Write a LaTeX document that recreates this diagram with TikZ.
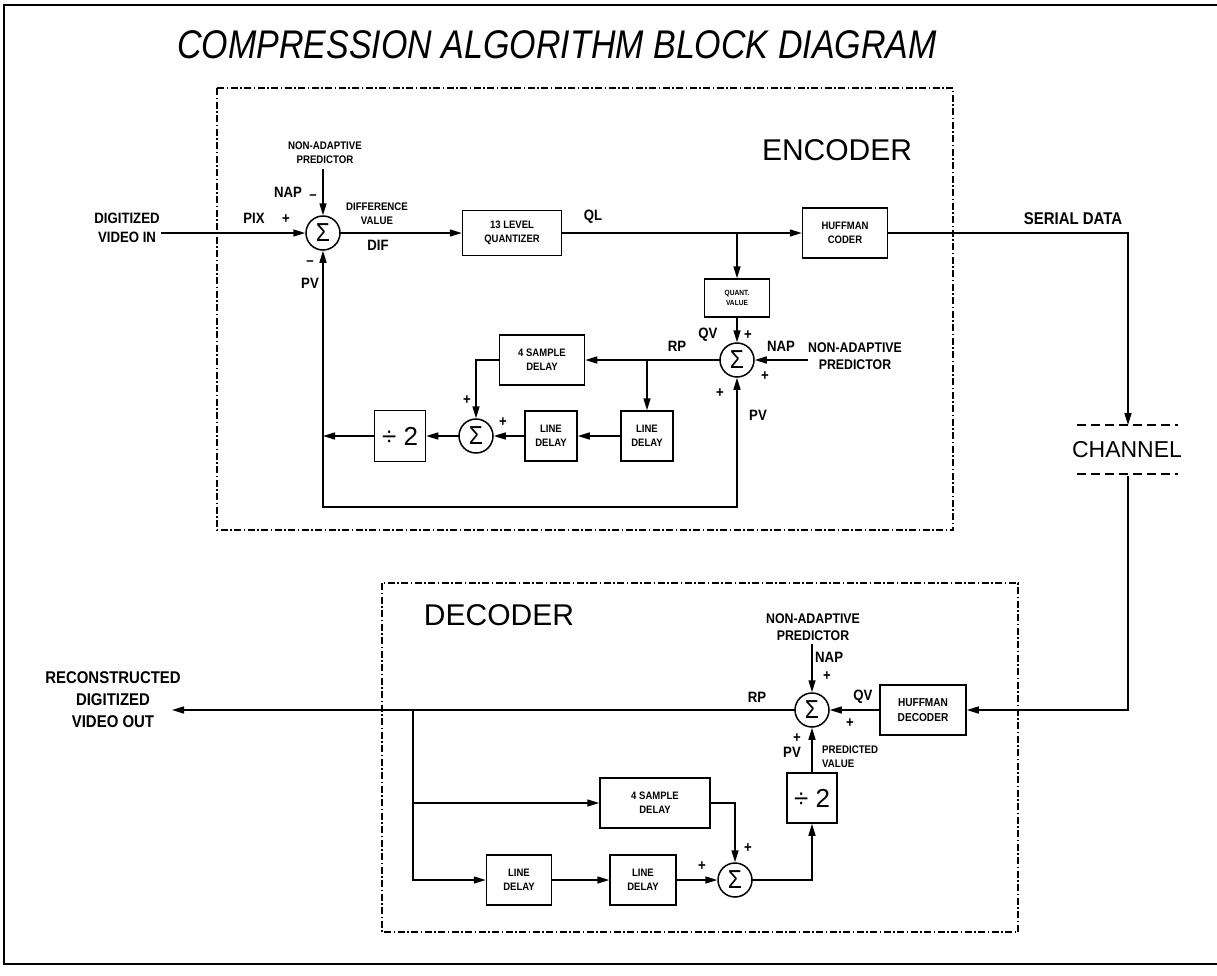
\documentclass[tikz,border=0pt]{standalone}
\usepackage{fontspec}
\setmainfont{Liberation Sans}
\newfontfamily\lblfont[FakeStretch=0.88]{Liberation Sans}
\newfontfamily\ttlfont[FakeStretch=0.85]{Liberation Sans}
\usetikzlibrary{arrows.meta, positioning, calc}

\begin{document}
\begin{tikzpicture}[
  x=1pt, y=-1pt,
  flow/.style={line width=1.5pt, line cap=rect, -{Triangle[length=12pt,width=7pt]}},
  wire/.style={line width=1.5pt, line cap=rect},
  blk/.style={draw, line width=1.5pt, inner sep=0pt, align=center,
    font=\lblfont\bfseries\fontsize{10.8}{14}\selectfont},
  sumnode/.style={circle, draw, line width=1.5pt, minimum size=34pt, inner sep=0pt,
    font=\lblfont\fontsize{26}{26}\selectfont},
  lbl/.style={inner sep=0pt, align=center, font=\lblfont\bfseries\fontsize{15}{19}\selectfont},
  lblsm/.style={inner sep=0pt, align=center, font=\lblfont\bfseries\fontsize{11}{14}\selectfont},
  lblmd/.style={inner sep=0pt, align=center, font=\lblfont\bfseries\fontsize{14}{17}\selectfont},
  bigtxt/.style={inner sep=0pt, font=\fontsize{30}{30}\selectfont},
  bdr/.style={line width=1.5pt, dash pattern=on 7pt off 2.5pt on 1.5pt off 2.5pt},
  chdash/.style={line width=1.5pt, dash pattern=on 9pt off 5pt}
]
\useasboundingbox (0,0) rectangle (1217,975);
\draw[line width=2.5pt] (1217,5) -- (4,5) -- (4,964) -- (1217,964);

\node[font=\ttlfont\itshape\fontsize{40}{40}\selectfont] (title) at (557,45)
  {COMPRESSION ALGORITHM BLOCK DIAGRAM};

% encoder
\draw[bdr] (217,88) rectangle (953,530);
\node[bigtxt] (enc) at (837,150) {ENCODER};

\node[sumnode] (sumE) at (323,233) {Σ};
\node[blk, minimum width=99pt, minimum height=45pt] (quant) at (512,233) {13 LEVEL\\QUANTIZER};
\node[blk, minimum width=85pt, minimum height=50pt] (huffE) at (845,233) {HUFFMAN\\CODER};
\node[blk, minimum width=65pt, minimum height=38pt, font=\lblfont\bfseries\fontsize{7.5}{10.5}\selectfont]
  (qval) at (737,298) {QUANT.\\VALUE};
\node[sumnode] (sumR) at (737,360) {Σ};
\node[blk, minimum width=85pt, minimum height=50pt] (samp) at (542,360) {4 SAMPLE\\DELAY};
\node[blk, minimum width=52pt, minimum height=50pt] (lineB) at (647,436) {LINE\\DELAY};
\node[blk, minimum width=52pt, minimum height=50pt] (lineA) at (551,436) {LINE\\DELAY};
\node[sumnode] (sumD) at (476,436) {Σ};
\node[blk, minimum width=51pt, minimum height=51pt, font=\fontsize{26}{26}\selectfont]
  (halfE) at (400,436) {÷ 2};

\coordinate (inE) at (162,233);
\coordinate (napE) at (323,170);
\coordinate (qlB) at (737,233);
\coordinate (napR) at (807,360);
\coordinate (rpB) at (647,360);
\coordinate (pvJ) at (323,436);
\coordinate (loopL) at (323,507);
\coordinate (loopR) at (737,507);

\draw[flow] (inE) -- (sumE);
\draw[flow] (napE) -- (sumE);
\draw[flow] (sumE) -- (quant);
\draw[flow] (quant) -- (huffE);
\draw[flow] (qlB) -- (qval);
\draw[flow] (qval) -- (sumR);
\draw[flow] (napR) -- (sumR);
\draw[flow] (sumR) -- (samp);
\draw[flow] (rpB) -- (lineB);
\draw[flow] (lineB) -- (lineA);
\draw[flow] (lineA) -- (sumD);
\draw[flow] (samp.west) -| (sumD.north);
\draw[flow] (sumD) -- (halfE);
\draw[flow] (halfE) -- (pvJ);
\draw[flow] (loopL) -- (sumE);
\draw[flow] (loopL) -- (loopR) -- (sumR);

\node[lbl] at (127,228) {DIGITIZED\\VIDEO IN};
\node[lbl] at (254,218) {PIX};
\node[lbl] at (286,219) {+};
\node[lbl] at (288,192) {NAP};
\node[lbl] at (313,197) {–};
\node[lblsm] at (325,153) {NON-ADAPTIVE\\PREDICTOR};
\node[lblsm] at (377,214) {DIFFERENCE\\VALUE};
\node[lbl] at (378,245) {DIF};
\node[lbl] at (310,263) {–};
\node[lbl] at (310,283) {PV};
\node[lbl] at (593,217) {QL};
\node[lbl] at (708,335) {QV};
\node[lbl] at (748,335) {+};
\node[lbl] at (677,346) {RP};
\node[lbl] at (781,346) {NAP};
\node[lblmd] at (855,356) {NON-ADAPTIVE\\PREDICTOR};
\node[lbl] at (765,376) {+};
\node[lbl] at (720,393) {+};
\node[lbl] at (758,415) {PV};
\node[lbl] at (467,400) {+};
\node[lbl] at (503,422) {+};

% channel
\node[lbl, font=\lblfont\bfseries\fontsize{17}{20}\selectfont] at (1073,219) {SERIAL DATA};
\node[font=\fontsize{23}{23}\selectfont, inner sep=0pt] (chan) at (1127,450) {CHANNEL};
\coordinate (chanTop) at (1128,425);
\coordinate (chanBot) at (1128,477);
\draw[chdash] (1077,425) -- (1178,425);
\draw[chdash] (1077,474) -- (1178,474);
\draw[flow] (huffE.east) -| (chanTop);

% decoder
\draw[bdr] (382,583) rectangle (1018,932);
\node[bigtxt] (dec) at (499,615) {DECODER};

\node[sumnode] (sumDec) at (812,710) {Σ};
\node[blk, minimum width=86pt, minimum height=50pt, font=\lblfont\bfseries\fontsize{11.5}{15}\selectfont]
  (huffD) at (923,710) {HUFFMAN\\DECODER};
\node[blk, minimum width=50pt, minimum height=50pt, font=\fontsize{26}{26}\selectfont]
  (halfD) at (812,798) {÷ 2};
\node[blk, minimum width=110pt, minimum height=50pt] (sampD) at (655,803) {4 SAMPLE\\DELAY};
\node[blk, minimum width=65pt, minimum height=50pt] (lineC) at (519,880) {LINE\\DELAY};
\node[blk, minimum width=66pt, minimum height=50pt] (lineE) at (643,880) {LINE\\DELAY};
\node[sumnode] (sumF) at (735,880) {Σ};

\coordinate (napD) at (812,645);
\coordinate (outD) at (172,710);
\coordinate (brD) at (413,710);
\coordinate (brS) at (413,803);

\draw[flow] (chanBot) |- (huffD.east);
\draw[flow] (huffD) -- (sumDec);
\draw[flow] (napD) -- (sumDec);
\draw[flow] (sumDec) -- (outD);
\draw[flow] (brD) |- (lineC);
\draw[flow] (brS) -- (sampD);
\draw[flow] (lineC) -- (lineE);
\draw[flow] (lineE) -- (sumF);
\draw[flow] (sampD.east) -| (sumF.north);
\draw[flow] (sumF.east) -| (halfD.south);
\draw[flow] (halfD) -- (sumDec);

\node[lbl, font=\lblfont\bfseries\fontsize{17}{22}\selectfont] at (113,700) {RECONSTRUCTED\\DIGITIZED\\VIDEO OUT};
\node[lblmd] at (813,627) {NON-ADAPTIVE\\PREDICTOR};
\node[lbl, anchor=west] at (815,657) {NAP};
\node[lbl] at (827,676) {+};
\node[lbl] at (757,697) {RP};
\node[lbl] at (863,697) {QV};
\node[lbl] at (850,723) {+};
\node[lbl] at (797,738) {+};
\node[lbl] at (792,752) {PV};
\node[lblsm, anchor=west, align=left] at (822,757) {PREDICTED\\VALUE};
\node[lbl] at (702,866) {+};
\node[lbl] at (748,848) {+};
\end{tikzpicture}
\end{document}
